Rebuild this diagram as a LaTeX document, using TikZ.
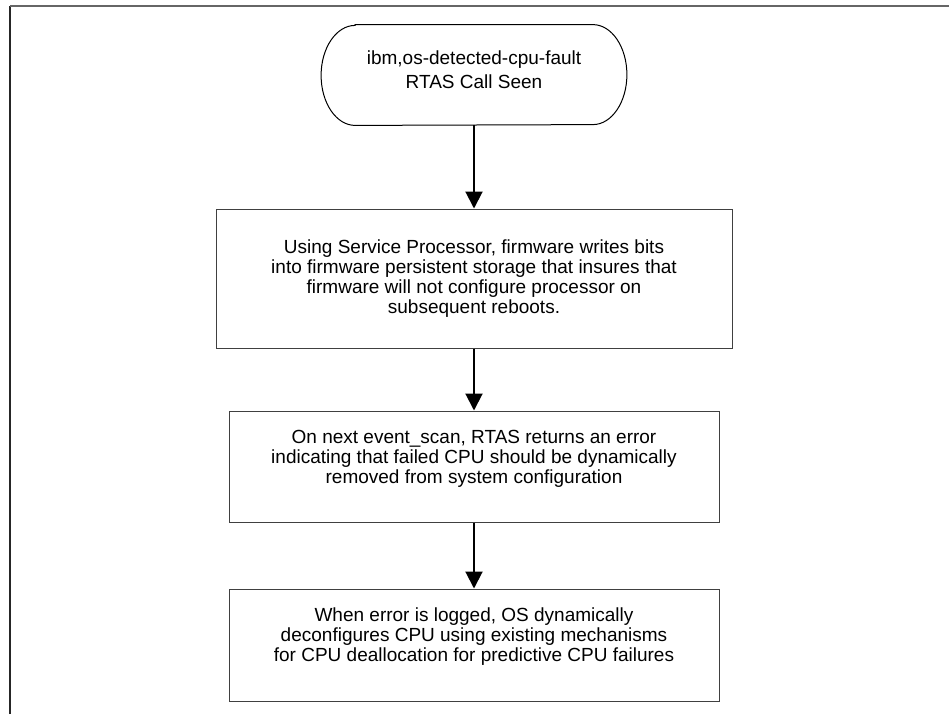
\documentclass[tikz,border=0pt]{standalone}
\usepackage{fontspec}
\setmainfont{Liberation Sans}
\usetikzlibrary{arrows.meta,positioning}

\begin{document}
\begin{tikzpicture}[x=0.5pt, y=-0.5pt, >={Triangle[length=8.5pt, width=8.5pt]},
  every node/.style={font=\fontsize{9.5}{10}\selectfont, inner sep=0pt},
  procbox/.style={draw=black!75, line width=0.5pt},
  boxtext/.style={align=center},
  flow/.style={->, line width=1pt}]
  \useasboundingbox (0,0) rectangle (949,714);

  % page frame
  \draw[black!85, line width=0.6pt] (10,714) -- (10,6);
  \draw[black!60, line width=0.6pt] (10,6) -- (949,6);

  % start
  \node[minimum width=152.5pt, minimum height=50pt] (seen) at (474,75) {};
  \draw[line width=0.5pt] ([xshift=17pt]seen.north west) -- ([xshift=-17pt]seen.north east)
    arc[start angle=90, end angle=-90, x radius=17pt, y radius=25pt]
    -- ([xshift=17pt]seen.south west)
    arc[start angle=270, end angle=90, x radius=17pt, y radius=25pt] -- cycle;
  \node[boxtext, font=\fontsize{9.5}{12}\selectfont] (seentxt) at ([yshift=2.5pt]seen.center)
    {ibm,os-detected-cpu-fault\\RTAS Call Seen};

  % steps
  \node[procbox, minimum width=258pt, minimum height=69.5pt] (write) at (474,278.5) {};
  \node[boxtext] (writetxt) at (write.center)
    {Using Service Processor, firmware writes bits\\
     into firmware persistent storage that insures that\\
     firmware will not configure processor on\\
     subsequent reboots.};

  \node[procbox, minimum width=245pt, minimum height=55.5pt] (scan) at (474,466.5) {};
  \node[boxtext] (scantxt) at ([yshift=4pt]scan.center)
    {On next event\_scan, RTAS returns an error\\
     indicating that failed CPU should be dynamically\\
     removed from system configuration};

  \node[procbox, minimum width=245pt, minimum height=56pt] (deconf) at (474,645) {};
  \node[boxtext] (deconftxt) at ([yshift=4pt]deconf.center)
    {When error is logged, OS dynamically\\
     deconfigures CPU using existing mechanisms\\
     for CPU deallocation for predictive CPU failures};

  \draw[flow] (seen.south) -- (write.north);
  \draw[flow] (write.south) -- (scan.north);
  \draw[flow] (scan.south) -- (deconf.north);
\end{tikzpicture}
\end{document}
